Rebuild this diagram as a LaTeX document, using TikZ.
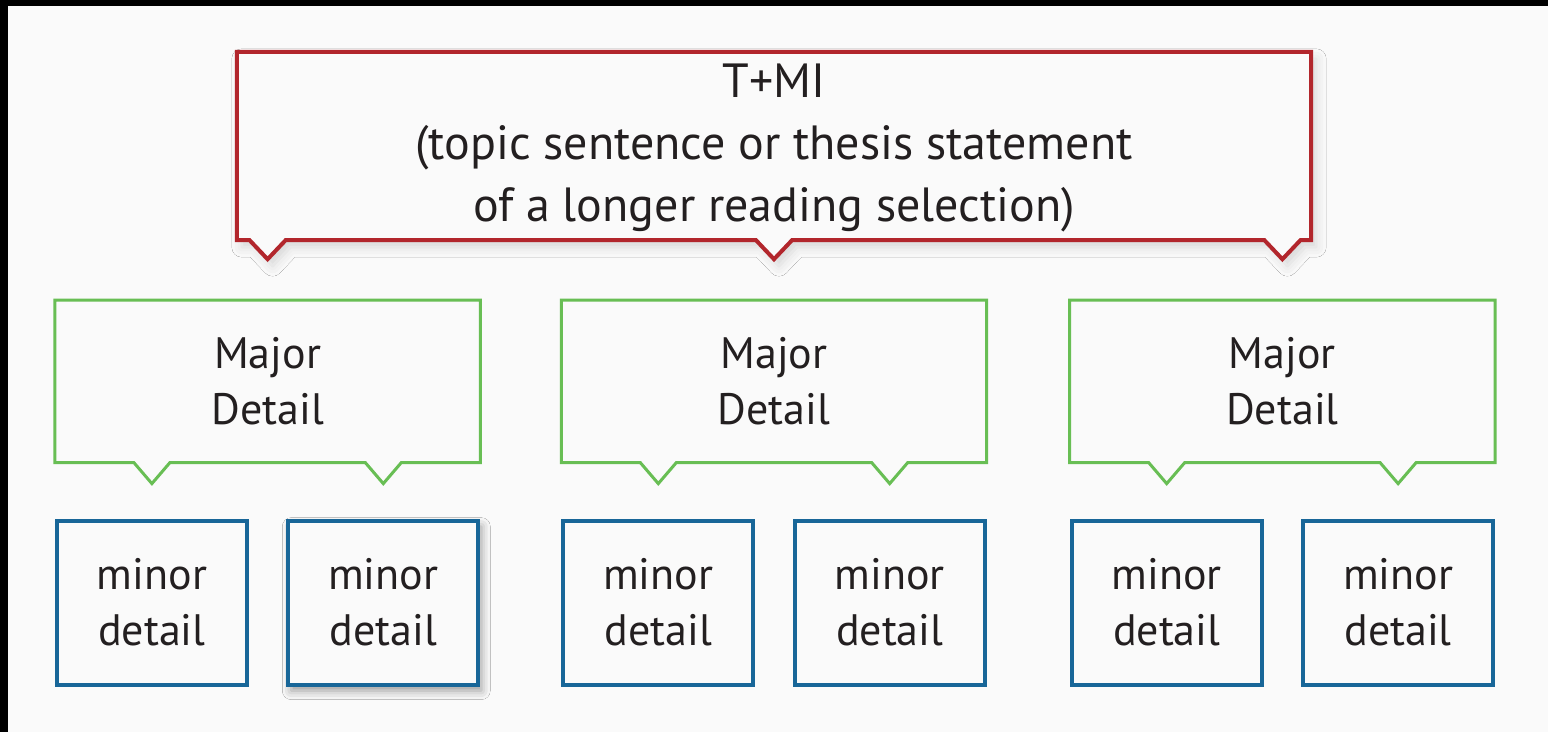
\documentclass[tikz,border=0pt]{standalone}
\usepackage{fontspec}
\setmainfont{PT Sans}
\usetikzlibrary{positioning,calc,shadows.blur}
\definecolor{thesisred}{RGB}{178,38,44}
\definecolor{majorgreen}{RGB}{104,190,84}
\definecolor{minorblue}{RGB}{24,102,152}
\definecolor{paper}{RGB}{250,250,250}
\definecolor{ink}{RGB}{35,31,32}
\tikzset{
  every node/.style={font=\fontsize{44}{56}\selectfont, text=ink, align=center, inner sep=0pt},
  thesisbox/.style={minimum width=1074pt, minimum height=188pt},
  majorbox/.style={minimum width=425pt, minimum height=162pt},
  minorbox/.style={draw=minorblue, line width=4pt, fill=paper, minimum width=190pt, minimum height=164pt},
  deepshadow/.style={blur shadow={shadow xshift=3pt, shadow yshift=-6pt, shadow blur radius=9pt, shadow opacity=40}},
  thesisline/.style={draw=thesisred, line width=4pt, fill=paper, line join=miter,
    blur shadow={shadow xshift=5pt, shadow yshift=-7pt, shadow blur radius=10pt, shadow opacity=14}},
  majorline/.style={draw=majorgreen, line width=3pt, fill=paper, line join=miter}
}
\begin{document}
\begin{tikzpicture}[x=1pt,y=-1pt]
    \fill[black] (0,0) rectangle (1548,732); % dark frame
    \fill[paper] (8,6) rectangle (1548,732); % sheet
    \useasboundingbox (0,0) rectangle (1548,732);

    % top level
    \node[thesisbox] (thesis) at (774,146) {};
    \node[majorbox, below=60pt of thesis] (major2) {};
    \node[majorbox, left=81pt of major2] (major1) {};
    \node[majorbox, right=83pt of major2] (major3) {};

    % bottom level
    \foreach \i in {1,2,3} {
        \node[minorbox, below right=56pt and 0pt of major\i.south west] (minor\i a) {minor\\detail};
        \node[minorbox, below left=56pt and 0pt of major\i.south east] (minor\i b) {minor\\detail};
    }
    \node[minorbox, deepshadow] at (minor1b) {minor\\detail}; % raised box

    % callout outlines
    \draw[thesisline] (thesis.north west) -- (thesis.south west)
        \foreach \m in {major1,major2,major3} {
            -- ($(thesis.south -| \m.north)+(-18,0)$) -- ++(18,19) -- ++(18,-19)
        } -- (thesis.south east) -- (thesis.north east) -- cycle;
    \foreach \i in {1,2,3} {
        \draw[majorline] (major\i.north west) -- (major\i.south west)
            -- ($(major\i.south -| minor\i a.north)+(-18,0)$) -- ++(18,21) -- ++(18,-21)
            -- ($(major\i.south -| minor\i b.north)+(-18,0)$) -- ++(18,21) -- ++(18,-21)
            -- (major\i.south east) -- (major\i.north east) -- cycle;
        \node at (major\i) {Major\\Detail};
    }
    \node[font=\fontsize{48}{62}\selectfont] at ([yshift=-2pt]thesis) {T+MI\\(topic sentence or thesis statement\\of a longer reading selection)};
\end{tikzpicture}
\end{document}
